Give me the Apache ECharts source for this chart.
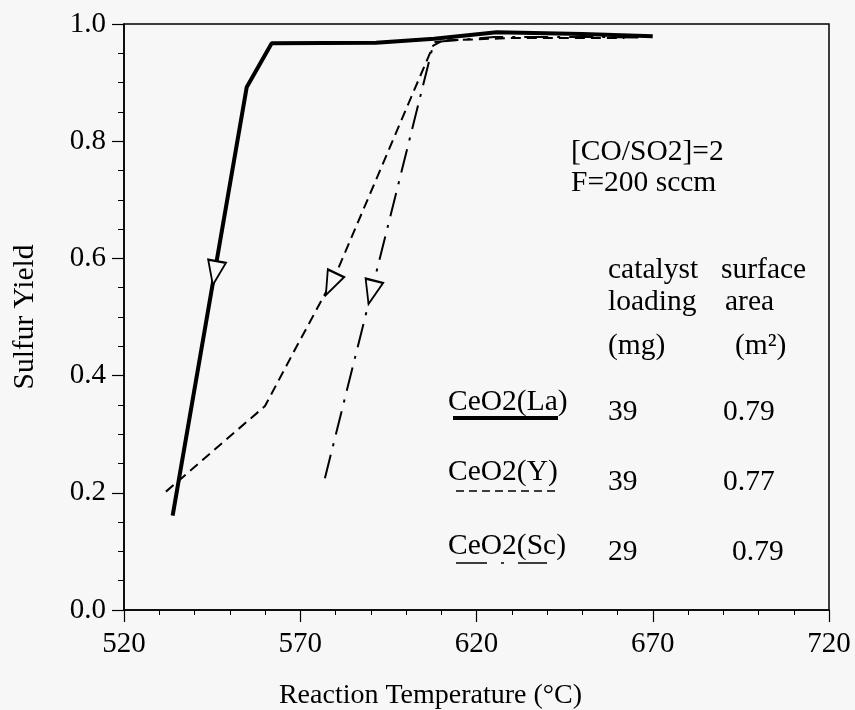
<!DOCTYPE html>
<html>
<head>
<meta charset="utf-8">
<script src="https://cdn.jsdelivr.net/npm/echarts@6/dist/echarts.min.js"></script>
<style>
  html, body { margin: 0; padding: 0; background: #f7f7f7; }
  #chart { width: 855px; height: 710px; }
</style>
</head>
<body>
<div id="chart"></div>
<script>
// Sulfur yield vs. reaction temperature for three doped ceria catalysts
const laTemp  = [533.8, 554.8, 561.9, 591.5, 608.0, 625.7, 650.0, 670.0];
const laYield = [0.161, 0.892, 0.967, 0.968, 0.975, 0.986, 0.983, 0.979];

const yTemp   = [531.9, 560.0, 569.0, 580.3, 607.7, 610.5, 630.0, 662.0];
const yYield  = [0.202, 0.348, 0.450, 0.576, 0.963, 0.972, 0.976, 0.976];

const scTemp  = [577.0, 607.9, 625.0, 650.0, 668.0];
const scYield = [0.225, 0.969, 0.978, 0.978, 0.977];

// direction markers placed on each curve (cooling direction)
const arrowTemp  = [545.8, 578.7, 590.2];
const arrowYield = [0.575, 0.556, 0.542];
const arrowAngle = [170, 155, 166];

// catalyst table
const catalystNames = ['CeO2(La)', 'CeO2(Y)', 'CeO2(Sc)'];
const loadingMg     = ['39', '39', '29'];
const surfaceArea   = ['0.79', '0.77', '0.79'];

const xTicks = [520, 570, 620, 670, 720];
const yTicks = [0.0, 0.2, 0.4, 0.6, 0.8, 1.0];

const FONT = 'Liberation Serif';
const BG = '#f7f7f7';

function pairs(xs, ys) { return xs.map((x, i) => [x, ys[i]]); }

const chart = echarts.init(document.getElementById('chart'));

const txt = (text, x, y, size) => ({
  type: 'text', x: x, y: y, z: 20,
  style: { text: text, fill: '#000', fontFamily: FONT, fontSize: size || 29.5,
           align: 'left', verticalAlign: 'middle' }
});
const rule = (x1, x2, y, width, dash) => ({
  type: 'line', z: 20,
  shape: { x1: x1, y1: y, x2: x2, y2: y },
  style: { stroke: '#000', lineWidth: width, lineDash: dash || null }
});

const rowY = [402, 472, 546];
const numY = [412, 482, 552];
const areaX = [723, 723, 732];

const graphics = [
  txt('[CO/SO2]=2', 571, 152),
  txt('F=200 sccm', 571, 183),
  txt('catalyst', 608, 270), txt('surface', 721, 270),
  txt('loading', 608, 302),  txt('area', 725, 302),
  txt('(mg)', 608, 346),     txt('(m²)', 735, 346)
];
catalystNames.forEach((n, i) => {
  graphics.push(txt(n, 448, rowY[i]));
  graphics.push(txt(loadingMg[i], 608, numY[i]));
  graphics.push(txt(surfaceArea[i], areaX[i], numY[i]));
});
graphics.push(rule(453, 558, 418, 4));
graphics.push(rule(456, 556, 491, 1.6, [8, 5]));
graphics.push(rule(456, 547, 563, 1.6, [31, 14, 3, 14]));

chart.setOption({
  backgroundColor: BG,
  animation: false,
  grid: { left: 124, right: 26, top: 24, bottom: 100, outerBoundsMode: 'none',
          containLabel: false,
          show: true, borderColor: '#000', borderWidth: 1.5 },
  xAxis: {
    type: 'value', min: xTicks[0], max: xTicks[xTicks.length - 1], interval: 50,
    name: 'Reaction Temperature (°C)', nameLocation: 'middle', nameGap: 72,
    nameTextStyle: { fontFamily: FONT, fontSize: 28, color: '#000', padding: [0, 92, 0, 0] },
    axisLine: { lineStyle: { color: '#000', width: 1.5 } },
    axisTick: { show: true, inside: false, length: 12, lineStyle: { color: '#000', width: 1.2 } },
    minorTick: { show: true, splitNumber: 5, length: 5, lineStyle: { color: '#000', width: 1 } },
    splitLine: { show: false },
    axisLabel: { fontFamily: FONT, fontSize: 29, color: '#000', margin: 20 }
  },
  yAxis: {
    type: 'value', min: yTicks[0], max: yTicks[yTicks.length - 1], interval: 0.2,
    name: 'Sulfur Yield', nameLocation: 'middle', nameGap: 84, nameRotate: 90,
    nameTextStyle: { fontFamily: FONT, fontSize: 29.5, color: '#000' },
    axisLine: { show: true, lineStyle: { color: '#000', width: 1.5 } },
    axisTick: { show: true, inside: false, length: 12, lineStyle: { color: '#000', width: 1.2 } },
    minorTick: { show: true, splitNumber: 4, length: 6, lineStyle: { color: '#000', width: 1 } },
    splitLine: { show: false },
    axisLabel: { fontFamily: FONT, fontSize: 29, color: '#000', margin: 18,
                 formatter: v => v.toFixed(1) }
  },
  series: [
    { name: 'CeO2(La)', type: 'line', data: pairs(laTemp, laYield), showSymbol: false,
      lineStyle: { color: '#000', width: 4 }, z: 3 },
    { name: 'CeO2(Y)', type: 'line', data: pairs(yTemp, yYield), showSymbol: false,
      lineStyle: { color: '#000', width: 2, type: [10, 6] }, z: 2 },
    { name: 'CeO2(Sc)', type: 'line', data: pairs(scTemp, scYield), showSymbol: false,
      lineStyle: { color: '#000', width: 2, type: [24, 9, 3, 9] }, z: 2 },
    { name: 'direction', type: 'scatter', z: 5,
      data: pairs(arrowTemp, arrowYield),
      symbol: 'triangle', symbolSize: [18, 24],
      symbolRotate: (v, p) => arrowAngle[p.dataIndex],
      itemStyle: { color: BG, borderColor: '#000', borderWidth: 2, opacity: 1 },
      emphasis: { disabled: true } }
  ],
  graphic: graphics
});
</script>
</body>
</html>
